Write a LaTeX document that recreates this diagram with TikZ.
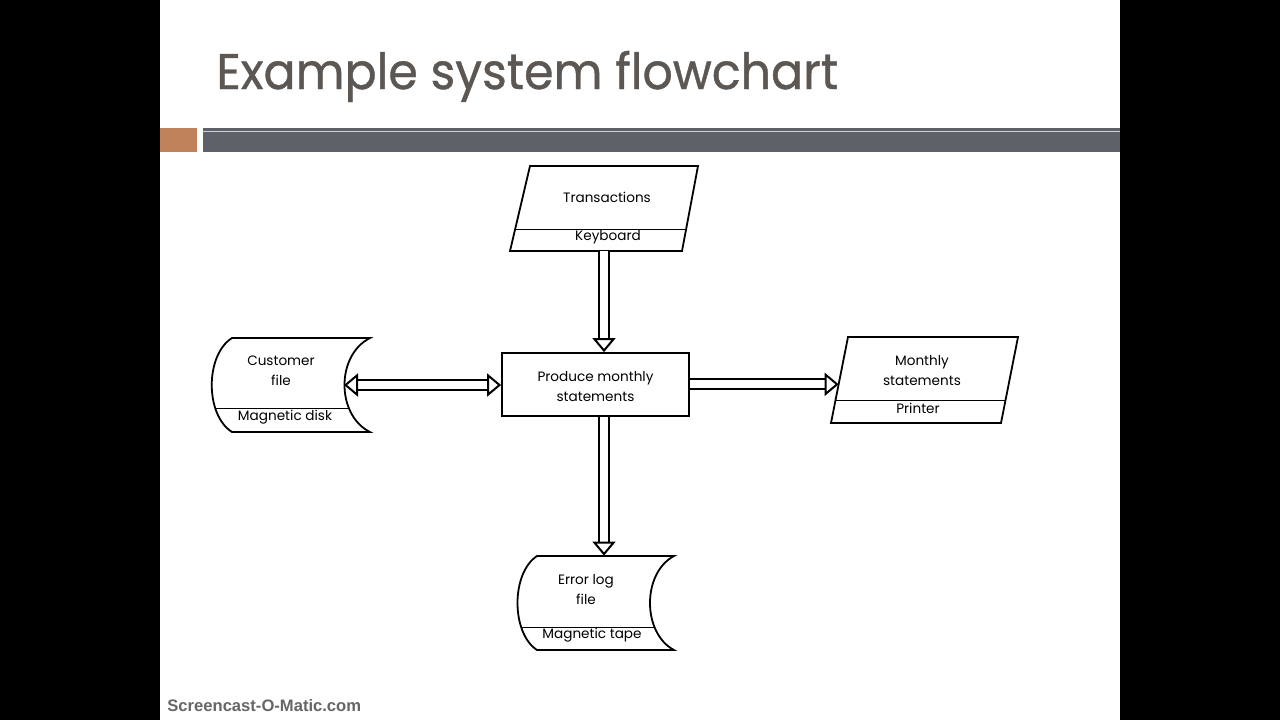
\documentclass[tikz,border=0pt]{standalone}
\usepackage{fontspec}
\setmainfont{Poppins}
\newfontfamily\titlefont{Poppins}[FakeBold=0.8]
\newfontfamily\wmfont{Liberation Sans}
\usetikzlibrary{arrows.meta,calc}
\definecolor{titlecol}{HTML}{5D5753}
\definecolor{barorange}{HTML}{C0825A}
\definecolor{bargray}{HTML}{5E6268}
\tikzset{
  lbl/.style={font=\fontsize{6.8pt}{10pt}\selectfont, text=black, align=center, inner sep=0pt},
  box/.style={draw, line width=0.9pt, minimum width=93.5pt, minimum height=31.5pt, inner sep=0pt},
  bbox/.style={inner sep=0pt, draw=none},
  shape line/.style={draw, line width=0.9pt},
  divider/.style={line width=0.5pt},
  dblarrow/.style={double=white, double distance=4pt, line width=1pt, -{Triangle[open, length=7pt, width=11.5pt, line width=1pt]}},
}
\begin{document}
\begin{tikzpicture}[x=0.5pt,y=-0.5pt]
\useasboundingbox (0,0) rectangle (1280,720);
\fill[black] (0,0) rectangle (1280,720);
\fill[white] (160,0) rectangle (1120,720);
% title
\node[anchor=base west, inner sep=0pt, text=titlecol, font=\titlefont\fontsize{25pt}{30pt}\selectfont] (title) at (216,89) {\scalebox{0.95}[1]{Example system flowchart}};
% bars
\fill[barorange] (160,128) rectangle (197,152);
\fill[bargray] (203,128) rectangle (1120,152);
\draw[white!70!bargray, line width=0.4pt] (203,131) -- (1120,131);

% ---------- Transactions (parallelogram) ----------
\node[bbox, minimum width=94pt, minimum height=42.5pt] (trans) at (604,208.5) {};
\path[shape line] (530,166) -- (698,166) -- (682,251) -- (510,251) -- cycle;
\begin{scope}
\clip (530,166) -- (698,166) -- (682,251) -- (510,251) -- cycle;
\draw[divider] (480,229) -- (720,229);
\end{scope}
\node[lbl] (transT) at (607,197) {Transactions};
\node[lbl] (transK) at (608,237) {Keyboard};

% ---------- Process ----------
\node[box] (proc) at (595.5,384.5) {};
\node[lbl] (procT) at (595.5,387) {Produce monthly\\statements};

% ---------- Customer file ----------
\node[bbox, minimum width=79pt, minimum height=47pt] (cust) at (291,385) {};
\path[shape line] (232,338) .. controls (205,355) and (205,415) .. (232,432) -- (370,432) .. controls (336,415) and (336,355) .. (370,338) -- cycle;
\begin{scope}
\clip (232,338) .. controls (205,355) and (205,415) .. (232,432) -- (370,432) .. controls (336,415) and (336,355) .. (370,338) -- cycle;
\draw[divider] (200,408) -- (400,408);
\end{scope}
\node[lbl] (custT) at (281,371) {Customer\\file};
\node[lbl] (custM) at (285,417) {Magnetic disk};
\coordinate (custin) at (344,385);

% ---------- Monthly statements (parallelogram) ----------
\node[bbox, minimum width=93.5pt, minimum height=43pt] (mon) at (924.5,380) {};
\path[shape line] (848,337) -- (1018,337) -- (1001,423) -- (831,423) -- cycle;
\begin{scope}
\clip (848,337) -- (1018,337) -- (1001,423) -- (831,423) -- cycle;
\draw[divider] (800,400) -- (1040,400);
\end{scope}
\node[lbl] (monT) at (922,371) {Monthly\\statements};
\node[lbl] (monP) at (918,408) {Printer};
\coordinate (monin) at ($(848,337)!0.55!(831,423)$);

% ---------- Error log file ----------
\node[bbox, minimum width=78pt, minimum height=47pt] (err) at (596,603) {};
\path[shape line] (537,556) .. controls (511,573) and (511,633) .. (537,650) -- (674,650) .. controls (642,633) and (642,573) .. (674,556) -- cycle;
\begin{scope}
\clip (537,556) .. controls (511,573) and (511,633) .. (537,650) -- (674,650) .. controls (642,633) and (642,573) .. (674,556) -- cycle;
\draw[divider] (500,627) -- (700,627);
\end{scope}
\node[lbl] (errT) at (586,590) {Error log\\file};
\node[lbl] (errM) at (592,635) {Magnetic tape};

% ---------- connectors ----------
\draw[dblarrow] (trans.south) -- (trans.south |- proc.north);
\draw[dblarrow, {Triangle[open, length=7pt, width=11.5pt, line width=1pt]}-{Triangle[open, length=7pt, width=11.5pt, line width=1pt]}] (custin) -- (custin -| proc.west);
\draw[dblarrow] (proc.east |- monin) -- (monin);
\draw[dblarrow] (trans.south |- proc.south) -- (trans.south |- err.north);

% watermark
\node[anchor=west, inner sep=0pt, font=\wmfont\bfseries\fontsize{8.3pt}{9pt}\selectfont, text=black!60] (wm) at (167,706) {Screencast-O-Matic.com};
\end{tikzpicture}
\end{document}
